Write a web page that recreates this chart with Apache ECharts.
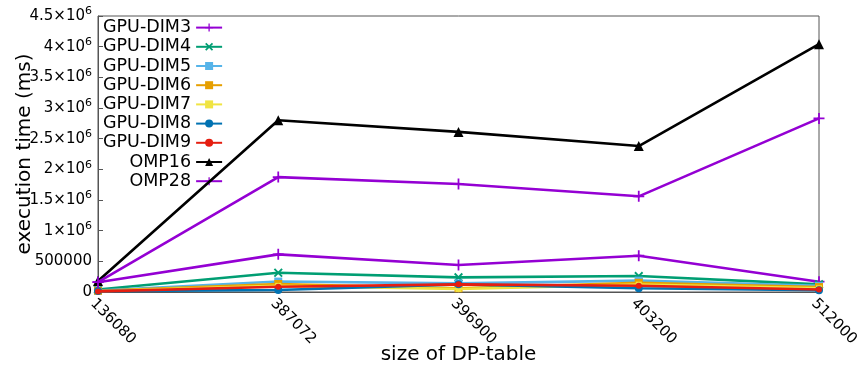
<!DOCTYPE html>
<html><head><meta charset="utf-8">
<script src="https://cdn.jsdelivr.net/npm/echarts@6/dist/echarts.min.js"></script>
<style>html,body{margin:0;padding:0;background:#fff}#c{width:857px;height:371px}</style>
</head><body><div id="c"></div>
<script>
const categories = ['136080', '387072', '396900', '403200', '512000'];
const seriesNames = ['GPU-DIM3','GPU-DIM4','GPU-DIM5','GPU-DIM6','GPU-DIM7','GPU-DIM8','GPU-DIM9','OMP16','OMP28'];
const gpuDim3 = [160000, 614000, 440000, 591000, 168000];
const gpuDim4 = [40000, 314000, 239000, 260000, 125000];
const gpuDim5 = [25000, 170000, 140000, 185000, 100000];
const gpuDim6 = [20000, 130000, 60000, 150000, 80000];
const gpuDim7 = [15000, 100000, 50000, 120000, 60000];
const gpuDim8 = [15000, 33000, 125000, 60000, 30000];
const gpuDim9 = [10000, 86000, 125000, 103000, 40000];
const omp16 = [180000, 2800000, 2610000, 2380000, 4040000];
const omp28 = [160000, 1873000, 1760000, 1560000, 2830000];
const yTickValues = [0, 500000, 1000000, 1500000, 2000000, 2500000, 3000000, 3500000, 4000000, 4500000];

const colors = ['#9400d3','#009e73','#56b4e9','#e69f00','#f0e442','#0072b2','#e51e10','#000000','#9400d3'];
const plus = 'path://M4.2,0H5.8V4.2H10V5.8H5.8V10H4.2V5.8H0V4.2H4.2Z';
const cross = 'path://M1.5,0L5,3.5L8.5,0L10,1.5L6.5,5L10,8.5L8.5,10L5,6.5L1.5,10L0,8.5L3.5,5L0,1.5Z';
const symbols = [plus, cross, 'rect', 'rect', 'rect', 'circle', 'circle', 'triangle', plus];
const sizes = [11, 9, 8, 8, 6, 8, 6, 10, 11];
const allData = [gpuDim3, gpuDim4, gpuDim5, gpuDim6, gpuDim7, gpuDim8, gpuDim9, omp16, omp28];

const series = seriesNames.map((n, i) => ({
  name: n, type: 'line', data: allData[i],
  symbol: symbols[i], symbolSize: sizes[i], showAllSymbol: true,
  lineStyle: {width: 2.6, color: colors[i]},
  itemStyle: {color: colors[i]},
  z: 2 + i
}));

const chart = echarts.init(document.getElementById('c'));
chart.setOption({
  animation: false,
  textStyle: {fontFamily: 'DejaVu Sans'},
  grid: {left: 98, right: 38, top: 16, bottom: 79, show: true, borderColor: '#555', borderWidth: 1,
         containLabel: false, outerBoundsMode: 'none'},
  legend: {
    orient: 'vertical', left: 98, top: 13, align: 'right',
    itemWidth: 26, itemHeight: 10, itemGap: 0,
    textStyle: {fontSize: 17.5, color: '#000', fontFamily: 'DejaVu Sans', lineHeight: 19.2, padding: [0,0,0,0]},
    data: seriesNames
  },
  xAxis: {
    type: 'category', data: categories, boundaryGap: false,
    name: 'size of DP-table', nameLocation: 'middle', nameGap: 53, nameMoveOverlap: false,
    nameTextStyle: {fontSize: 20, color: '#000', fontFamily: 'DejaVu Sans'},
    axisLine: {lineStyle: {color: '#555'}},
    axisTick: {inside: true, length: 5, alignWithLabel: true, lineStyle: {color: '#555'}},
    axisLabel: {rotate: -45, fontSize: 15, color: '#000', margin: 4, align: 'left', verticalAlign: 'top', fontFamily: 'DejaVu Sans'},
    splitLine: {show: false}
  },
  yAxis: {
    type: 'value', min: 0, max: 4500000, interval: 500000,
    name: 'execution time (ms)', nameLocation: 'middle', nameGap: 63, nameMoveOverlap: false,
    nameTextStyle: {fontSize: 20, color: '#000', fontFamily: 'DejaVu Sans'},
    axisLine: {show: true, lineStyle: {color: '#555'}},
    axisTick: {show: true, inside: true, length: 5, lineStyle: {color: '#555'}},
    axisLabel: {
      fontSize: 15, color: '#000', margin: 6, fontFamily: 'DejaVu Sans',
      formatter: v => {
        if (v === 0) return '0';
        if (v === 500000) return '500000';
        return (v / 1e6) + '×10{s|6}';
      },
      rich: {s: {fontSize: 11, padding: [0, 0, 9, 0], color: '#000', fontFamily: 'DejaVu Sans'}}
    },
    splitLine: {show: false}
  },
  series: series
});
</script></body></html>
